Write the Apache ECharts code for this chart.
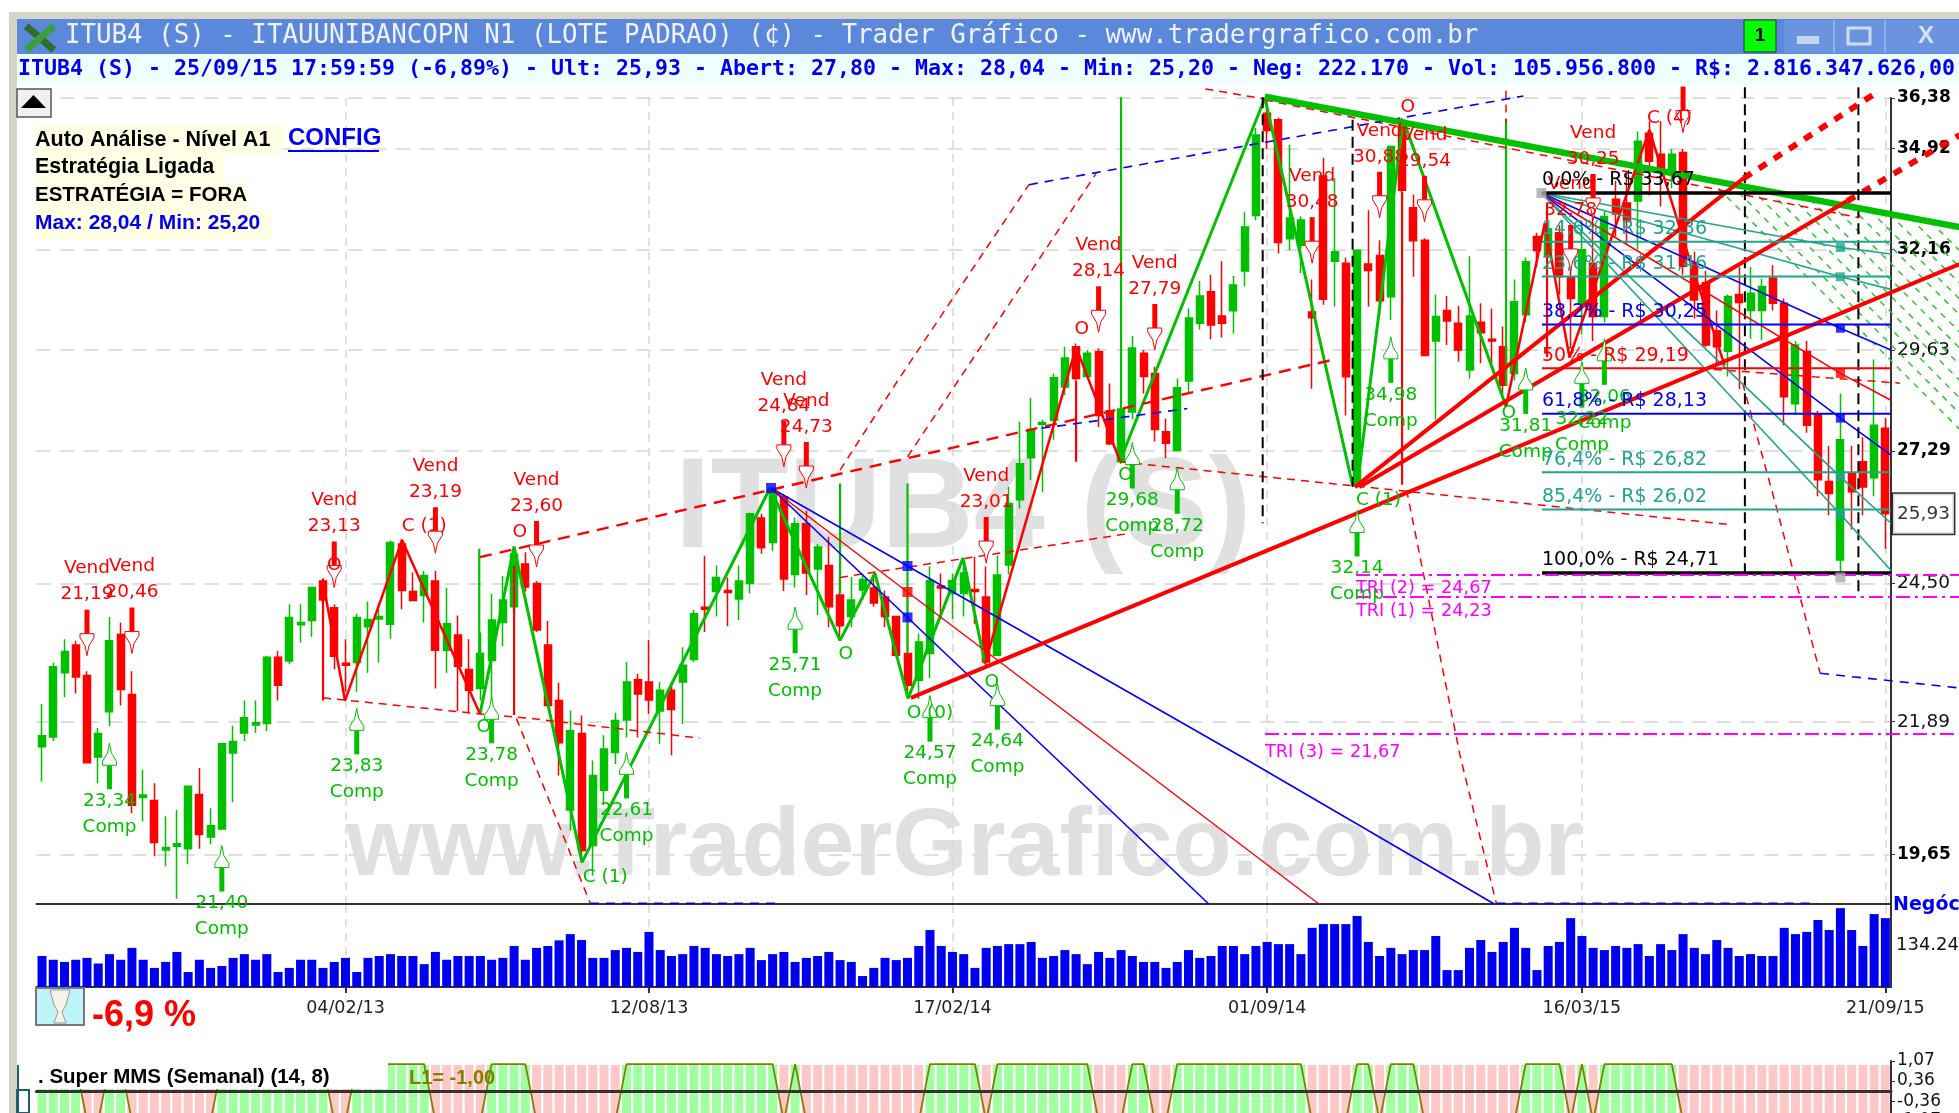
<!DOCTYPE html>
<html><head><meta charset="utf-8">
<style>html,body{margin:0;padding:0;background:#fff;overflow:hidden}#c{width:1959px;height:1113px}</style>
<script src="https://cdn.jsdelivr.net/npm/echarts@6/dist/echarts.min.js"></script>
</head><body><div id="c"></div>
<script>
const firstWeek = Date.UTC(2012, 6, 30);
const weekCount = 165;
const categories = Array.from({length: weekCount}, (_, i) => {
  const d = new Date(firstWeek + i * 7 * 864e5);
  const p = n => String(n).padStart(2, '0');
  return p(d.getUTCDate()) + '/' + p(d.getUTCMonth() + 1) + '/' + String(d.getUTCFullYear()).slice(2);
});
const dateTicks = ['04/02/13', '12/08/13', '17/02/14', '01/09/14', '16/03/15', '21/09/15'];
const priceTicks = [36.38, 34.92, 32.16, 29.63, 27.29, 24.50, 21.89, 19.65];
const boldPriceTicks = [36.38, 34.92, 32.16, 27.29, 19.65];
const lastPrice = 25.93;

// [open, close, low, high]
const candles = [
[21.45,21.64,20.85,22.21],[21.62,22.89,21.55,22.97],[22.78,23.18,22.33,23.41],[23.30,22.70,22.40,23.38],[22.73,21.17,21.17,22.81],
[21.27,21.68,20.82,21.78],[22.07,23.38,21.81,23.84],[23.50,22.47,22.18,23.73],[22.38,20.45,20.32,22.81],[20.58,20.62,20.18,21.05],
[20.53,19.84,19.62,20.82],[19.72,19.76,19.46,20.27],[19.78,19.82,18.95,20.37],[19.74,20.77,19.49,20.77],[20.63,19.97,19.74,21.08],
[19.93,20.11,19.81,20.40],[20.06,21.50,20.06,21.50],[21.34,21.54,20.50,21.82],[21.69,21.96,21.55,22.27],[21.83,21.87,21.69,22.27],
[21.86,23.07,21.72,23.10],[23.07,22.55,22.27,23.19],[23.00,23.83,22.94,24.09],[23.69,23.73,23.35,24.09],[23.77,24.42,23.46,24.42],
[24.55,24.17,24.11,24.58],[24.02,23.09,22.84,24.09],[22.96,22.92,22.43,23.41],[22.97,23.83,22.43,23.90],[23.65,23.79,22.78,24.14],
[23.80,23.85,22.97,24.07],[23.70,25.33,23.42,25.37],[25.30,24.36,23.99,25.40],[24.34,24.16,24.16,24.72],[24.26,24.66,23.73,24.75],
[24.55,23.20,22.49,24.75],[23.20,23.71,22.78,24.41],[23.49,22.90,22.08,23.87],[22.84,22.46,22.04,23.41],[22.49,23.14,22.27,23.54],
[23.01,23.78,22.15,24.29],[23.73,24.17,23.28,24.65],[24.04,25.09,23.92,25.26],[24.89,24.43,24.34,25.13],[24.50,23.59,23.55,24.55],
[23.30,22.18,22.15,23.76],[22.27,21.52,20.95,22.60],[20.37,21.73,20.03,22.09],[21.68,19.71,19.52,22.00],[19.79,20.95,19.31,21.21],
[20.70,21.41,20.45,21.65],[21.35,21.91,21.15,22.05],[21.92,22.61,21.61,22.98],[22.65,22.39,21.61,22.76],[22.61,22.28,22.03,23.40],
[22.08,22.46,21.50,22.61],[22.46,22.11,21.30,22.61],[22.61,22.92,21.85,23.26],[23.03,23.90,22.98,23.98],[24.03,23.99,23.55,25.06],
[24.34,24.62,23.85,24.86],[24.36,24.32,23.66,24.62],[24.19,24.55,23.78,24.86],[24.50,25.93,24.30,25.95],[25.84,25.22,25.10,25.93],
[25.33,26.37,25.15,26.40],[26.29,24.59,24.35,26.35],[24.68,25.72,24.42,25.85],[25.72,24.71,24.27,26.00],[24.79,25.24,23.88,25.30],
[24.86,24.04,23.64,25.45],[24.27,23.67,23.39,24.63],[23.85,24.17,23.64,24.63],[24.37,24.58,24.17,24.70],[24.41,24.11,24.04,24.70],
[24.23,23.85,23.64,24.36],[23.85,23.11,23.05,23.85],[23.14,22.55,22.32,24.30],[22.64,23.36,22.30,23.52],[23.14,24.56,22.68,24.84],
[24.45,24.41,23.79,24.70],[24.30,24.56,23.80,24.70],[24.30,24.71,23.85,24.97],[24.38,24.34,23.71,25.04],[24.23,22.98,22.85,24.84],
[23.11,24.67,23.11,25.07],[24.87,26.15,24.68,26.50],[26.23,27.01,26.04,27.95],[27.14,27.77,26.65,28.50],[27.89,27.93,26.39,28.00],
[27.98,28.97,27.54,29.07],[28.75,29.44,28.56,29.71],[29.71,28.95,28.90,29.79],[29.00,29.55,28.95,29.63],[29.59,28.09,27.83,29.67],
[28.20,27.45,27.42,28.83],[27.05,28.24,27.00,28.30],[28.17,29.68,28.00,29.97],[29.55,29.00,28.60,29.63],[29.07,27.77,27.50,29.23],
[27.72,27.46,27.13,28.02],[27.30,28.73,27.28,28.95],[28.89,30.41,28.60,30.65],[30.28,30.96,30.13,31.34],[31.07,30.24,29.89,31.50],
[30.46,30.28,29.93,31.85],[30.59,31.24,30.03,31.47],[31.60,32.75,31.21,33.15],[33.06,35.30,32.93,35.50],[35.93,35.43,34.90,36.30],
[35.74,32.34,32.05,35.80],[32.44,32.99,32.14,35.02],[32.27,32.94,31.55,33.04],[30.56,30.42,28.71,31.38],[34.14,30.88,30.74,34.65],
[31.85,32.10,30.70,34.08],[31.80,28.99,28.09,31.95],[26.55,32.14,26.55,32.14],[31.78,31.61,30.70,33.20],[32.00,30.84,30.44,32.40],
[30.94,34.97,30.36,35.00],[35.60,33.75,33.70,35.80],[33.27,32.39,31.45,33.63],[32.40,29.50,29.50,32.45],[29.85,30.45,28.00,31.00],
[30.60,30.34,29.75,30.96],[30.28,29.63,29.35,30.71],[29.15,30.46,28.95,31.98],[30.31,30.05,29.31,30.78],[29.89,29.85,29.31,30.65],
[29.71,28.79,28.60,30.20],[29.07,30.82,28.90,31.38],[30.49,31.84,30.30,31.95],[32.50,32.13,31.70,32.60],[31.97,32.70,31.70,32.90],
[32.60,31.45,31.00,32.80],[31.45,30.90,29.70,31.90],[30.78,32.15,30.00,32.90],[31.80,30.45,29.85,33.00],[30.45,33.03,30.30,33.20],
[33.50,33.10,32.50,34.00],[33.40,32.90,32.30,34.20],[33.45,35.12,32.15,35.40],[35.35,34.55,33.60,35.70],[34.75,34.25,33.30,35.70],
[34.25,34.75,33.80,34.90],[34.80,31.72,31.50,34.90],[31.80,30.86,30.40,32.10],[31.30,29.75,29.70,31.60],[30.10,29.71,29.30,30.60],
[29.60,30.95,29.00,31.00],[31.00,30.80,28.70,31.70],[30.60,31.03,29.90,31.70],[30.60,31.20,29.87,31.40],[31.42,30.78,30.60,31.75],
[30.78,28.52,27.87,30.90],[28.36,29.75,28.10,29.85],[29.60,27.87,27.70,29.85],[28.13,26.66,26.30,28.20],[26.62,26.36,25.90,27.40],
[24.97,27.54,24.75,28.60],[26.80,26.40,25.60,27.40],[27.05,26.50,25.90,27.60],[26.70,27.87,26.30,29.40],[27.80,25.93,25.20,28.04]
];

const volumes = [
99,87,80,87,93,75,105,87,125,87, 61,80,112,48,87,61,67,93,105,87, 105,48,61,87,87,61,80,93,48,93,
99,105,99,99,73,112,87,99,99,99, 87,93,131,87,125,131,149,169,150,93, 93,118,125,112,176,118,99,105,131,125,
105,99,105,125,86,105,112,80,93,99, 112,86,80,35,61,93,86,93,131,182, 131,112,105,61,
125,131,137,137,144,93,99,118,105,73, 112,93,118,99,80,80,61,80,118,93, 99,131,131,105,131,144,137,137,105,189,
201,201,201,227,144,99,125,105,118,118, 163,54,54,125,150,112,144,189,125,54, 131,144,220,163,125,118,131,125,137,99,
137,118,169,125,105,150,125,99,105,99, 99,189,169,176,214,182,252,182,131,233, 220
];

const mmsHigh = 0.93, mmsLow = -1.07;
const mmsUp = ('1111 00 11 00000000 1111111111 00 1111111 00000 1111 00000000 11111111111111 0 1 00000000000 11111 0 ' +
  '111111111 000 11 00 111111111111 0000 11 0 111 000000000 1111 0 1 0 1111111 0000000000000000000').replace(/ /g,'').split('').map(Number);

const fibPrices = [33.67, 32.36, 31.46, 30.25, 29.19, 28.13, 26.82, 26.02, 24.71];
const fibTexts = ['0,0% - R$ 33,67','14,6% - R$ 32,36','23,6% - R$ 31,46','38,2% - R$ 30,25','50% - R$ 29,19','61,8% - R$ 28,13','76,4% - R$ 26,82','85,4% - R$ 26,02','100,0% - R$ 24,71'];
const fibColors = ['#000','#1fa58c','#1fa58c','#0000ff','#ff0000','#0000ff','#1fa58c','#1fa58c','#000'];

const triPrices = [24.67, 24.23, 21.67];
const triStarts = [116.9, 116.9, 108.8];
const triTexts = [[116.9,24.40,'TRI (2) = 24,67'],[116.9,23.95,'TRI (1) = 24,23'],[108.8,21.35,'TRI (3) = 21,67']];

// [week index, arrow tip price, signal price]; a null signal draws the arrow only
const sellSignals = [[4,23.10,'21,19'],[8,23.14,'20,46'],[26,24.42,'23,13'],[35,25.11,'23,19'],[44,24.83,'23,60'],[66,26.94,'24,84'],[68,26.48,'24,73'],
[84,24.91,'23,01'],[94,30.06,'28,14'],[99,29.63,'27,79'],[113,31.8,'30,48'],[119,33.0,'30,88'],[123,32.89,'29,54'],[138,32.94,'30,25'],[146,35.37,null],[136,31.6,'32,78']];
const buySignals = [[6,21.51,'23,34'],[16,19.79,'21,40'],[28,22.13,'23,83'],[40,22.33,'23,78'],[52,21.35,'22,61'],[67,24.03,'25,71'],[79,22.36,'24,57'],
[85,22.58,'24,64'],[97,27.48,'29,68'],[101,26.92,'28,72'],[120,29.95,'34,98'],[117,26.0,'32,14'],[132,29.2,'31,81'],[137,29.35,'32,22'],[139,29.9,'32,06']];
const redPointTags = [[26,24.87,'O'],[34,25.66,'C (1)'],[42.5,25.54,'O'],[92.5,30.13,'O'],[121.5,36.1,'O'],[144.8,35.8,'C (4)']];
const greenPointTags = [[39.3,21.79,'O'],[50.1,19.28,'C (1)'],[71.5,23.12,'O'],[79,22.05,'O (0)'],[84.5,22.6,'O'],[96.4,26.76,'O'],[118.9,26.22,'C (1)'],[130.5,28.14,'O']];

// analysis lines as [week index, price]
const greenSwings = [
 [[38.97,22.03],[41.99,25.24],[48.04,19.52],[64.77,26.48],[71.0,23.39],[74.1,24.70],[77.05,22.31],[81.94,25.01],[83.9,22.95]],
 [[95.9,27.07],[108.8,36.38],[116.6,26.54]],
 [[117.0,26.50],[121.1,35.74],[130.25,28.30]]
];
const redSwings = [
 [[25.0,24.52],[26.96,22.27],[32.03,25.38],[38.97,22.03]],
 [[83.9,22.95],[92.0,29.70],[95.9,27.07]],
 [[130.25,28.30],[133.7,32.86],[135.9,29.45],[143.0,35.45],[146.6,31.88],[149.7,29.26]]
];
const greenChannel = [[108.8,36.42],[170.6,32.75]];
const redSupports = [
 [[77.3,22.32],[170.6,31.78]],
 [[116.8,26.50],[151.4,34.08]],
 [[117.2,26.50],[160.6,33.45]]
];
const redProjections = [[[151.4,34.08],[163.5,36.6]],[[160.6,33.45],[170.6,35.3]]];
const fanBlue = [
 [[64.86,26.48],[77,24.85],[107.3,21.21],[129.2,18.87]],
 [[64.86,26.48],[77,23.83],[90.4,21.21],[103.8,18.87]]
];
const fanRed = [[64.86,26.48],[77,24.33],[96.8,21.21],[113.6,18.87]];
const fanBlueMarks = [[64.86,26.48],[77,24.85],[77,23.83]];
const fanRedMarks = [[77,24.33]];
const redDashed = [
 [[25,22.32],[38.97,22.03],[43.4,21.95],[58.5,21.6]],
 [[38.97,25.03],[114.6,29.38]],
 [[95.9,27.05],[149.9,25.71]],
 [[71,24.62],[96.8,25.52]],
 [[71,26.87],[76.16,28.91],[87.8,33.9]],
 [[77,27.16],[93.8,34.22]],
 [[103.5,36.65],[108.8,36.35]],
 [[108.8,36.32],[161.7,33.0]],
 [[121.4,26.44],[126.2,21.26],[129.4,18.87]],
 [[130.25,36.6],[130.25,35.65]],
 [[151.3,28.84],[154.3,26.07],[158.2,22.77]],
 [[147.5,29.19],[165.3,28.84]],
 [[42.2,21.95],[48.75,18.89]]
];
const blueDashed = [
 [[87.8,33.9],[131.8,36.44]],
 [[88.9,27.8],[101.9,28.25]],
 [[158.2,22.77],[170.6,22.5]],
 [[48.75,18.88],[65.5,18.88]],
 [[129.4,18.88],[157.9,18.88]]
];
const blackDashed = [
 [[108.6,36.4],[108.6,25.73]],
 [[116.6,35.74],[116.6,26.5]],
 [[151.5,36.7],[151.5,24.65]],
 [[161.6,36.7],[161.6,24.31]]
];
const signalBars = [
 [25,24.6,22.27,'#ff0000'],[38.9,25.2,23.14,'#00c000'],[42,24.85,22.01,'#ff0000'],[71,26.58,24.3,'#00c000'],[77,26.58,23.14,'#00c000'],
 [92,28.9,27.05,'#ff0000'],[96,36.4,28.24,'#00c000'],[121,33.7,26.55,'#ff0000'],[130.25,35.76,28.79,'#00c000'],[133.9,33.4,29.46,'#ff0000']
];
const fibFanOrigin = [133.4,33.67];
const fibFan = [
 [[160,32.21],[164.5,32.04],'#1fa58c'],[[160,31.45],[164.5,31.13],'#1fa58c'],[[160,30.16],[164.5,29.63],'#0000ff'],
 [[160,29.07],[164.5,28.44],'#ff0000'],[[160,28.03],[164.5,27.2],'#0000ff'],[[160,26.72],[164.5,25.73],'#1fa58c'],[[160,25.92],[164.5,24.76],'#1fa58c']
];
const fibEndMark = [160,24.62];
const hatch = [
 [[148.4,34.03],[170.6,27.78]],[[150.2,33.92],[170.6,28.14]],[[152,33.81],[170.6,28.5]],[[153.7,33.72],[170.6,28.91]],[[155.5,33.61],[170.6,29.28]],
 [[157.3,33.5],[170.6,29.68]],[[159.1,33.39],[170.6,30.07]],[[160.9,33.3],[170.6,30.49]],[[162.6,33.2],[170.6,30.89]],[[164.4,33.09],[170.6,31.29]],
 [[166.2,33.0],[170.6,31.7]],[[168,32.9],[170.6,32.13]],[[169.75,32.8],[170.6,32.57]]
];

const GREEN = '#00c000', RED = '#ff0000', BLUE = '#0000ff', MAGENTA = '#ff00ff';
const FONT = '"DejaVu Sans"', SANS = '"Liberation Sans"', MONO = '"DejaVu Sans Mono"';
const chart = echarts.init(document.getElementById('c'), null, {renderer: 'canvas'});
const L = 36.4, W = 1854.6, BAND = W / 165;
const isDateTick = i => dateTicks.includes(categories[i]);
const OV = {xAxisIndex: 1, yAxisIndex: 3};

function line(pts, color, width, dash, z) {
  return Object.assign({type: 'line', data: pts, showSymbol: false, symbol: 'none', clip: false, silent: true, animation: false,
    z: z || 3, lineStyle: {color, width, type: dash || 'solid', cap: 'butt'}}, OV);
}
function tagSeries(rows, colorOf, font, align, vAlign, dy) {
  return Object.assign({type: 'custom', z: 8, clip: false, silent: true, animation: false,
    data: rows.map(r => [r[0], r[1]]), encode: {x: 0, y: 1},
    renderItem(params, api) {
      const p = api.coord([api.value(0), api.value(1)]);
      const i = params.dataIndex;
      return {type: 'text', style: {legacy: false, text: rows[i][2], x: p[0], y: p[1] + (dy || 0), fill: colorOf(i), font, align, verticalAlign: vAlign}};
    }}, OV);
}
function arrowSeries(rows, sell) {
  const color = sell ? RED : GREEN, dir = sell ? -1 : 1;
  return Object.assign({type: 'custom', z: 7, clip: false, silent: true, animation: false,
    data: rows.map(r => [r[0], r[1]]), encode: {x: 0, y: 1},
    renderItem(params, api) {
      const p = api.coord([api.value(0), api.value(1)]);
      const x = p[0], y = p[1], text = rows[params.dataIndex][2];
      const kids = [
        {type: 'rect', shape: {x: x - 2.5, y: dir > 0 ? y + 22 : y - 46, width: 5, height: 24}, style: {fill: color}},
        {type: 'polygon', shape: {points: [[x, y], [x - 2, y + dir * 10], [x - 7, y + dir * 18], [x - 7, y + dir * 22], [x + 7, y + dir * 22], [x + 7, y + dir * 18], [x + 2, y + dir * 10]]},
          style: {fill: '#fff', stroke: color, lineWidth: 1}}
      ];
      const f = '18.5px ' + FONT;
      if (text) {
        const a = sell ? 'Vend' : text, b = sell ? text : 'Comp';
        const y1 = sell ? y - 87 : y + 58, y2 = sell ? y - 61 : y + 84;
        kids.push({type: 'text', style: {legacy: false, text: a, x, y: y1, fill: color, font: f, align: 'center', verticalAlign: 'middle'}});
        kids.push({type: 'text', style: {legacy: false, text: b, x, y: y2, fill: color, font: f, align: 'center', verticalAlign: 'middle'}});
      }
      return {type: 'group', children: kids};
    }}, OV);
}
function squares(pts, color, size) {
  return Object.assign({type: 'scatter', data: pts, symbol: 'rect', symbolSize: size || 10, clip: false, silent: true, animation: false, z: 6, itemStyle: {color}}, OV);
}

const series = [];
series.push({type: 'candlestick', xAxisIndex: 0, yAxisIndex: 0, data: candles, barWidth: 7.5, z: 2, silent: true, animation: false,
  itemStyle: {color: GREEN, color0: RED, borderColor: GREEN, borderColor0: RED, borderWidth: 1.5}});
series.push({type: 'bar', xAxisIndex: 2, yAxisIndex: 1, data: volumes, barWidth: 9, silent: true, animation: false, itemStyle: {color: '#0000f0'}});
series.push({type: 'bar', xAxisIndex: 3, yAxisIndex: 2, barWidth: 9, barGap: '-100%', silent: true, animation: false,
  data: mmsUp.map(u => ({value: mmsHigh, itemStyle: {color: u ? '#a0ffa0' : '#ffc8c8'}}))});
series.push({type: 'bar', xAxisIndex: 3, yAxisIndex: 2, barWidth: 9, barGap: '-100%', silent: true, animation: false,
  data: mmsUp.map(u => ({value: mmsLow, itemStyle: {color: u ? '#a0ffa0' : '#ffc8c8'}}))});
series.push({type: 'line', xAxisIndex: 3, yAxisIndex: 2, data: mmsUp.map(u => u ? mmsHigh + 0.03 : mmsLow), showSymbol: false, symbol: 'none', z: 4, silent: true, animation: false,
  lineStyle: {color: '#808000', width: 1.8}});

hatch.forEach(h => series.push(line(h, '#2fc72f', 1.5, [6, 6], 2)));
greenSwings.forEach(s => series.push(line(s, GREEN, 3)));
redSwings.forEach(s => series.push(line(s, RED, 2.5)));
signalBars.forEach(b => series.push(line([[b[0], b[1]], [b[0], b[2]]], b[3], 2.2)));
redDashed.forEach((s, i) => series.push(line(s, RED, i === 1 ? 2.4 : 1.5, i === 1 ? [12, 8] : [8, 6])));
blueDashed.forEach(s => series.push(line(s, BLUE, 1.6, [9, 7])));
blackDashed.forEach(s => series.push(line(s, '#000', 2, [11, 6])));
series.push(line(greenChannel, GREEN, 6.5, null, 4));
redSupports.forEach(s => series.push(line(s, RED, 4, null, 4)));
redProjections.forEach(s => series.push(line(s, RED, 6, [9, 9], 4)));
fanBlue.forEach(s => series.push(line(s, BLUE, 1.6)));
series.push(line(fanRed, RED, 1.4));
series.push(squares(fanBlueMarks, BLUE), squares(fanRedMarks, RED));
fibFan.forEach(f => {
  series.push(line([fibFanOrigin, f[0], f[1]], f[2], 1.6));
  series.push(squares([f[0]], f[2], 9));
});
series.push(squares([fibFanOrigin, fibEndMark], '#aaaaaa', 10));
fibPrices.forEach((p, i) => series.push(line([[133.45, p], [164.5, p]], fibColors[i], fibColors[i] === '#000' ? 3.4 : 2, null, 5)));
series.push(tagSeries(fibPrices.map((p, i) => [133.45, p, fibTexts[i]]), i => fibColors[i], '19px ' + FONT, 'left', 'bottom', -3));
triPrices.forEach((p, i) => series.push(line([[triStarts[i], p], [170.6, p]], MAGENTA, 2, [14, 5, 3, 5], 5)));
series.push(tagSeries(triTexts, () => MAGENTA, '17.7px ' + FONT, 'left', 'middle', 0));
series.push(arrowSeries(sellSignals, true), arrowSeries(buySignals, false));
series.push(tagSeries(redPointTags, () => RED, '18.5px ' + FONT, 'center', 'middle', 0));
series.push(tagSeries(greenPointTags, () => GREEN, '18.5px ' + FONT, 'center', 'middle', 0));
series.push(Object.assign({type: 'scatter', data: [[164.5, lastPrice]], symbolSize: 0, clip: false, silent: true, animation: false, z: 9,
  label: {show: true, position: 'right', distance: 2, formatter: () => String(lastPrice).replace('.', ','), color: '#000', fontFamily: 'DejaVu Sans', fontSize: 18.5,
    backgroundColor: '#fff', borderColor: '#000', borderWidth: 1.5, padding: [11, 4, 10, 4]}}, OV));

const splitV = {show: true, interval: i => isDateTick(i), alignWithLabel: true, lineStyle: {color: '#d8d8d8', width: 1.5, type: [8, 6]}};
const dark = {color: '#333', width: 2};
const comma = v => Number(v).toFixed(2).replace('.', ',');

const rect = (x, y, w, h, fill, z, extra) => Object.assign({type: 'rect', z: z === undefined ? 50 : z, silent: true, shape: {x, y, width: w, height: h}, style: Object.assign({fill}, extra || {})});
const text = (t, x, y, fill, font, z, align) => ({type: 'text', z: z === undefined ? 51 : z, silent: true, x, y,
  style: {legacy: false, text: t, fill, font, align: align || 'left', verticalAlign: 'middle'}});
const seg = (x1, y1, x2, y2, stroke, lineWidth) => ({type: 'line', z: 51, silent: true, shape: {x1, y1, x2, y2}, style: {stroke, lineWidth}});

const chrome = [
  text('ITUB4 (S)', 675, 512, '#e0e0e0', 'bold 128px ' + SANS, 0),
  text('www.TraderGrafico.com.br', 346, 848, '#e0e0e0', 'bold 97px ' + SANS, 0),
  rect(9, 12, 1950, 7, '#d8d5c8'), rect(9, 12, 8, 1101, '#d8d5c8'),
  rect(17, 19, 1942, 35, '#5b88da'), rect(17, 54, 1942, 30, '#efffff'),
  seg(26, 26, 54, 50, '#2f6b2f', 7), seg(54, 26, 26, 50, '#3aa03a', 7),
  text('ITUB4 (S) - ITAUUNIBANCOPN N1 (LOTE PADRAO) (¢) - Trader Gráfico - www.tradergrafico.com.br', 65, 36, '#eef3ff', '25.8px ' + MONO),
  text('ITUB4 (S) - 25/09/15 17:59:59 (-6,89%) - Ult: 25,93 - Abert: 27,80 - Max: 28,04 - Min: 25,20 - Neg: 222.170 - Vol: 105.956.800 - R$: 2.816.347.626,00', 18, 69, '#0000ee', 'bold 21.6px ' + MONO),
  rect(1744, 20, 32, 32, '#00ff00', 50, {stroke: '#333', lineWidth: 1}),
  text('1', 1760, 36, '#000', 'bold 19px ' + SANS, 51, 'center'),
  rect(1784, 20, 175, 33, '#6a94e0'),
  seg(1834, 20, 1834, 53, '#b8c8e8', 1), seg(1885, 20, 1885, 53, '#b8c8e8', 1),
  rect(1797, 36, 22, 8, '#c5d4f0', 51),
  rect(1848, 28, 22, 16, 'none', 51, {stroke: '#d0dcf2', lineWidth: 3}),
  text('X', 1926, 36, '#d8e2f5', 'bold 24px ' + SANS, 51, 'center'),
  rect(17, 89, 34, 28, '#f0f0f0', 50, {stroke: '#555', lineWidth: 1.5}),
  {type: 'polygon', z: 51, silent: true, shape: {points: [[21, 108], [46, 108], [33.5, 95]]}, style: {fill: '#000'}},
  rect(35, 125, 248, 30, '#ffffe6'), rect(35, 155, 190, 28, '#ffffe6'), rect(35, 183, 213, 28, '#ffffe6'), rect(35, 211, 236, 29, '#ffffe6'),
  text('Auto Análise - Nível A1', 35, 140, '#000', 'bold 21.5px ' + SANS),
  text('CONFIG', 288, 138, '#0000ee', 'bold 24px ' + SANS), rect(288, 150, 91, 2, '#0000ee', 51),
  text('Estratégia Ligada', 35, 167, '#000', 'bold 21.5px ' + SANS),
  text('ESTRATÉGIA = FORA', 35, 195, '#000', 'bold 20.5px ' + SANS),
  text('Max: 28,04 / Min: 25,20', 35, 223, '#0000ee', 'bold 21px ' + SANS),
  text('Negóc', 1893, 905, '#0000ee', 'bold 19px ' + FONT),
  rect(36, 988, 48, 37, '#bff5fa', 50, {stroke: '#777', lineWidth: 2}),
  {type: 'polygon', z: 51, silent: true, shape: {points: [[50, 990], [70, 990], [66, 1005], [62, 1012], [66, 1023], [54, 1023], [58, 1012], [54, 1005]]}, style: {fill: '#f4f4e8', stroke: '#999', lineWidth: 1}},
  text('-6,9 %', 92, 1016, '#ff0000', 'bold 36px ' + SANS),
  rect(17, 1062, 371, 27, '#ffffff'),
  text('. Super MMS (Semanal) (14, 8)', 38, 1077, '#000', 'bold 20.5px ' + SANS),
  text('L1= -1,00', 409, 1078, '#808000', 'bold 20px ' + SANS),
  rect(17, 1065, 2, 48, '#1f5f6a', 51), rect(17, 1090, 12, 23, 'none', 51, {stroke: '#1f5f6a', lineWidth: 2})
];

chart.setOption({
  animation: false,
  backgroundColor: '#fff',
  graphic: {elements: chrome},
  grid: [
    {left: L, width: W, top: 98, height: 806, outerBoundsMode: 'none'},
    {left: L, width: W, top: 905, height: 82, outerBoundsMode: 'none'},
    {left: L, width: W, top: 1061, height: 60, outerBoundsMode: 'none'},
    {left: L, width: 171.1 * BAND, top: 98, height: 806, outerBoundsMode: 'none'}
  ],
  xAxis: [
    {type: 'category', gridIndex: 0, data: categories, boundaryGap: true, axisLine: {lineStyle: dark}, axisTick: {show: false}, axisLabel: {show: false}, splitLine: splitV},
    {type: 'value', gridIndex: 3, min: -0.5, max: 170.6, show: false},
    {type: 'category', gridIndex: 1, data: categories, boundaryGap: true, axisLine: {lineStyle: dark},
      axisTick: {show: true, alignWithLabel: true, interval: i => isDateTick(i), length: 6, lineStyle: dark},
      axisLabel: {show: true, interval: i => isDateTick(i), color: '#222', fontFamily: 'DejaVu Sans', fontSize: 17.5, margin: 12, showMaxLabel: true, hideOverlap: false},
      splitLine: splitV},
    {type: 'category', gridIndex: 2, data: categories, boundaryGap: true, axisLine: {onZero: true, lineStyle: {color: '#333', width: 3}}, axisTick: {show: false}, axisLabel: {show: false}, z: 6}
  ],
  yAxis: [
    {type: 'log', logBase: Math.E, gridIndex: 0, position: 'right', min: 18.87, max: 36.38, axisLine: {show: true, onZero: false, lineStyle: dark},
      axisTick: {show: true, length: 4, customValues: priceTicks, lineStyle: {color: '#333'}},
      axisLabel: {show: true, margin: 6, customValues: priceTicks,
        formatter: v => { const s = comma(v); return boldPriceTicks.includes(+Number(v).toFixed(2)) ? '{b|' + s + '}' : '{r|' + s + '}'; },
        rich: {b: {fontFamily: 'DejaVu Sans', fontWeight: 'bold', fontSize: 17, color: '#000'}, r: {fontFamily: 'DejaVu Sans', fontSize: 18.5, color: '#111'}}},
      splitLine: {show: true, customValues: priceTicks, lineStyle: {color: '#dedede', width: 2, type: [14, 10]}}},
    {type: 'value', gridIndex: 1, position: 'right', min: 0, max: 262, axisLine: {show: true, onZero: false, lineStyle: dark}, axisTick: {show: false},
      axisLabel: {show: true, margin: 5, customValues: [134.24], formatter: v => Number(v).toFixed(2), fontFamily: 'DejaVu Sans', fontSize: 18, color: '#111'}, splitLine: {show: false}},
    {type: 'value', gridIndex: 2, position: 'right', min: -1.07, max: 1.07, axisLine: {show: true, onZero: false, lineStyle: dark}, axisTick: {show: true, length: 4, customValues: [1.07, 0.36, -0.36, -1.07]},
      axisLabel: {show: true, margin: 6, customValues: [1.07, 0.36, -0.36, -1.07], formatter: comma, fontFamily: 'DejaVu Sans', fontSize: 17, color: '#111'}, splitLine: {show: false}},
    {type: 'log', logBase: Math.E, gridIndex: 3, min: 18.87, max: 36.38, show: false}
  ],
  series
});
</script></body></html>
